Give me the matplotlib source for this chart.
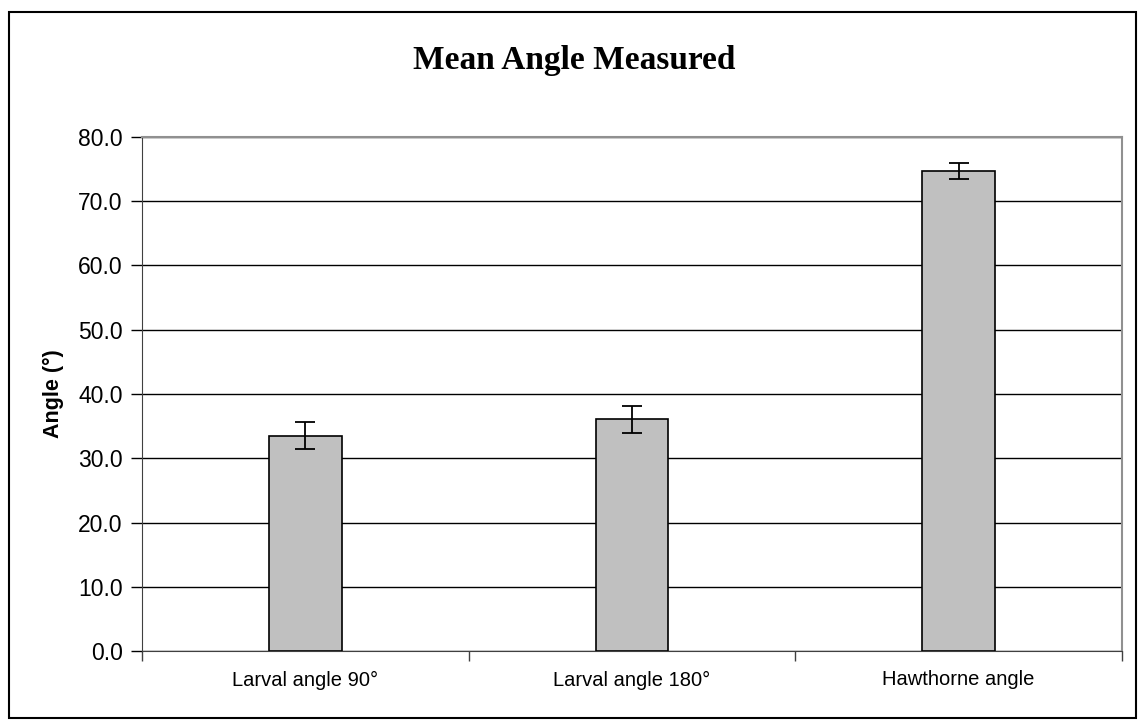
import numpy as np
import matplotlib.pyplot as plt
from matplotlib.patches import Rectangle

categories = ['Larval angle 90°', 'Larval angle 180°', 'Hawthorne angle']
means = [33.5, 36.1, 74.7]
errors = [2.1, 2.1, 1.2]
yticks = [0, 10, 20, 30, 40, 50, 60, 70, 80]

plt.rcParams['font.family'] = ['Liberation Sans', 'DejaVu Sans']

W, H = 1140, 724
fig = plt.figure(figsize=(W / 100, H / 100), dpi=100)
# plot area in pixels: x 142..1122, y 137..651
ax = fig.add_axes([142 / W, 1 - 651 / H, (1122 - 142) / W, (651 - 137) / H])

# outer frame of the chart
fig.patches.append(Rectangle((9 / W, 6 / H), (1136 - 9) / W, (715 - 9) / H,
                             transform=fig.transFigure, fill=False,
                             edgecolor='black', linewidth=1.5))

x = np.arange(len(categories))
ax.bar(x, means, width=0.223, color='#c0c0c0', edgecolor='black',
       linewidth=1.2, zorder=3)
ax.errorbar(x, means, yerr=errors, fmt='none', ecolor='black',
            elinewidth=1.3, capsize=7.5, capthick=1.3, zorder=4)

ax.set_xlim(-0.5, len(categories) - 0.5)
ax.set_ylim(0, 80)
ax.set_yticks(yticks)
ax.set_yticklabels(['%.1f' % v for v in yticks], fontsize=16.5)
ax.yaxis.grid(True, color='black', linewidth=1)
ax.set_axisbelow(True)

ax.set_xticks(x)
ax.set_xticklabels(categories, fontsize=14.5)
ax.tick_params(axis='x', length=0, pad=14)
ax.set_xticks(np.arange(len(categories) + 1) - 0.5, minor=True)
ax.tick_params(axis='x', which='minor', length=7, direction='out', width=1,
               color='#404040')
ax.tick_params(axis='y', length=8, direction='out', width=1, pad=6)

for s in ['top', 'right']:
    ax.spines[s].set_color('#909090')
    ax.spines[s].set_linewidth(1.5)
ax.spines['left'].set_color('#404040')
ax.spines['bottom'].set_color('#404040')

ax.set_ylabel('Angle (°)', fontsize=15.5, fontweight='bold', labelpad=10)
fig.text(574 / W, 1 - 60 / H, 'Mean Angle Measured', ha='center', va='center',
         fontsize=24, fontweight='bold', family=['Liberation Serif', 'DejaVu Serif'])

fig.savefig('out.png', dpi=100)
